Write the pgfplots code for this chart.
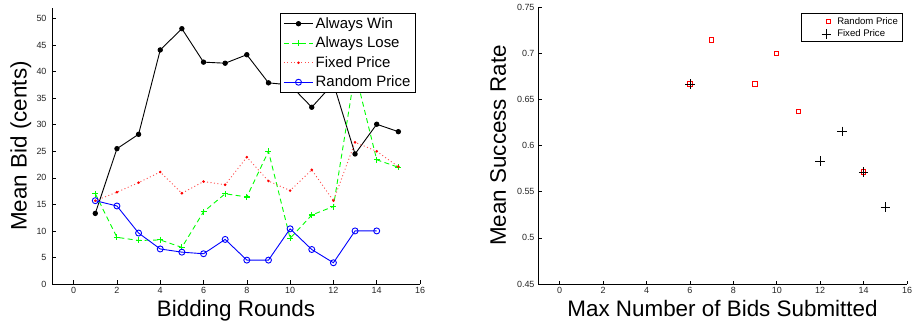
\documentclass[border=0pt]{standalone}
\usepackage{fontspec}
\setmainfont{Liberation Sans}
\usepackage{pgfplots}
\pgfplotsset{compat=1.18}
\definecolor{mlgreen}{rgb}{0,1,0}
\definecolor{mlred}{rgb}{1,0,0}
\begin{document}
\begin{tikzpicture}
\useasboundingbox (0,0) rectangle (913bp,322bp);
\pgfplotsset{
  mystyle/.style={
    scale only axis,
    axis x line=bottom, axis y line=left,
    axis line style={-, line width=0.8bp, black},
    tick align=inside,
    major tick length=3.5bp,
    tick style={line width=0.6bp, black},
    /pgf/number format/assume math mode=true,
    tick label style={font=\fontsize{9}{10}\selectfont, text=black!85},
    xmin=-1, xmax=16, xtick={0,2,...,16},
    label style={font=\fontsize{22.5}{26}\selectfont},
    xlabel style={at={(axis description cs:0.5,-0.1185)}, anchor=base},
    legend cell align=left,
  }
}
% ---------------- left chart ----------------
\begin{axis}[mystyle,
  at={(52bp,38bp)}, anchor=south west,
  width=368bp, height=276bp,
  ymin=0, ymax=52, ytick={0,5,...,50},
  yticklabel style={xshift=-2bp},
  xlabel={Bidding Rounds},
  ylabel={Mean Bid (cents)},
  ylabel style={at={(axis description cs:-0.085,0.5)}, rotate=0, anchor=center},
  legend style={at={(axis description cs:0.989,0.982)}, anchor=north east,
    font=\fontsize{15}{18.5}\selectfont, draw=black, line width=1.2bp,
    fill=white, inner xsep=3bp, inner ysep=2bp, row sep=3.2bp},
  legend image code/.code={\draw[mark repeat=2,mark phase=2,#1] plot coordinates {(0cm,0cm) (0.52cm,0cm) (1.04cm,0cm)};},
]
\addplot[black, line width=0.9bp, mark=*, mark size=2.2bp] coordinates {
(1,13.3)(2,25.5)(3,28.2)(4,44.1)(5,48.1)(6,41.8)(7,41.6)(8,43.2)(9,37.9)(10,37.5)(11,33.3)(12,37.8)(13,24.5)(14,30.1)(15,28.7)};
\addlegendentry{Always Win}
\addplot[mlgreen, line width=0.9bp, dash pattern=on 5bp off 3.5bp, mark=+, mark size=3bp, mark options={solid, line width=1.1bp}] coordinates {
(1,17.0)(2,8.8)(3,8.2)(4,8.3)(5,6.9)(6,13.6)(7,17.0)(8,16.4)(9,25.0)(10,8.6)(11,13.0)(12,14.6)(13,40.0)(14,23.4)(15,22.0)};
\addlegendentry{Always Lose}
\addplot[red!70, line width=0.9bp, dash pattern=on 1bp off 2.5bp, mark=*, mark size=0.8bp, mark options={solid, red}] coordinates {
(1,15.7)(2,17.3)(3,19.1)(4,21.1)(5,17.1)(6,19.3)(7,18.7)(8,23.9)(9,19.4)(10,17.6)(11,21.5)(12,15.7)(13,26.7)(14,25.0)(15,22.1)};
\addlegendentry{Fixed Price}
\addplot[blue, line width=0.9bp, mark=o, mark size=3bp] coordinates {
(1,15.7)(2,14.7)(3,9.6)(4,6.6)(5,6.0)(6,5.7)(7,8.4)(8,4.5)(9,4.5)(10,10.4)(11,6.5)(12,4.0)(13,10.0)(14,10.0)};
\addlegendentry{Random Price}
\end{axis}
% ---------------- right chart ----------------
\begin{axis}[mystyle,
  at={(538bp,38bp)}, anchor=south west,
  width=369bp, height=277bp,
  ymin=0.45, ymax=0.75, ytick={0.45,0.5,0.55,0.6,0.65,0.7,0.75},
  yticklabels={0.45,0.5,0.55,0.6,0.65,0.7,0.75},
  xlabel={Max Number of Bids Submitted},
  ylabel={Mean Success Rate},
  ylabel style={at={(axis description cs:-0.108,0.5)}, rotate=0, anchor=center},
  legend style={at={(axis description cs:0.989,0.978)}, anchor=north east,
    font=\fontsize{9.6}{12}\selectfont, draw=black, line width=1.2bp,
    fill=white, inner xsep=2.5bp, inner ysep=1.5bp, row sep=0pt},
  legend image code/.code={\path[draw=none,fill=none] (-3bp,0bp) -- (28bp,0bp); \draw[#1] plot coordinates {(19bp,0bp)};},
]
\addplot[draw=none, mark=none,
  nodes near coords={},
  every node near coord/.style={draw=mlred, fill=none, line width=1bp, minimum size=4.2bp, inner sep=0pt, outer sep=0pt, anchor=center},
  legend image code/.code={\path[draw=none,fill=none] (-3bp,0bp) -- (28bp,0bp); \node[draw=mlred, line width=1bp, minimum size=4.2bp, inner sep=0pt] at (19bp,0bp) {};},
] coordinates {
(6,0.6667)(7,0.7143)(9,0.6667)(10,0.7)(11,0.6364)(14,0.5714)};
\addlegendentry{Random Price}
\addplot[draw=none, mark=+, mark size=4.7bp, mark options={draw=black, solid, line width=0.6bp}] coordinates {
(6,0.6667)(12,0.5833)(13,0.6154)(14,0.5714)(15,0.5333)};
\addlegendentry{Fixed Price}
\end{axis}
\end{tikzpicture}
\end{document}
